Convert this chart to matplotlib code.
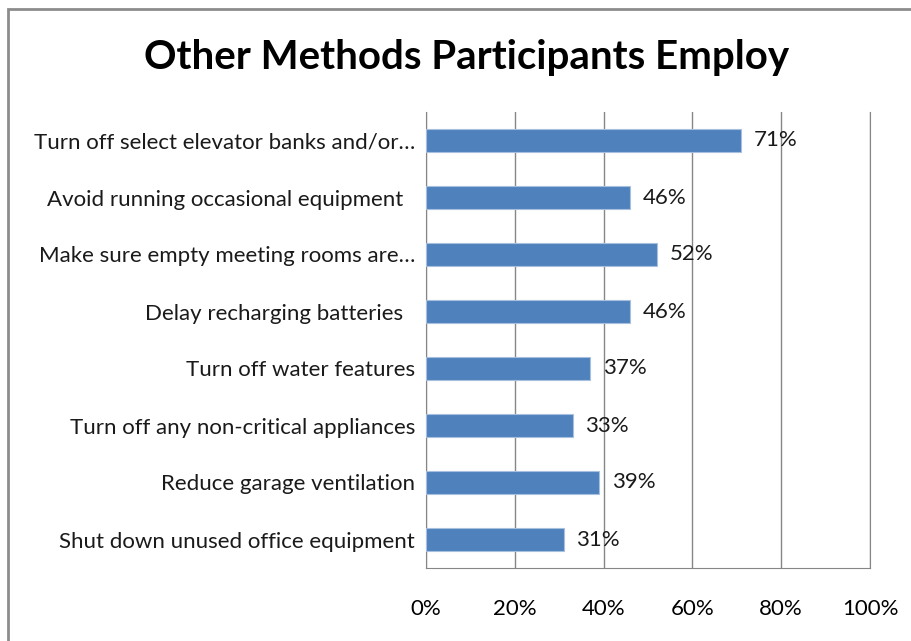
import matplotlib.pyplot as plt
from matplotlib.patches import Rectangle

# categorias (de arriba hacia abajo) y porcentajes
metodos = [
    'Turn off select elevator banks and/or…',
    'Avoid running occasional equipment  ',
    'Make sure empty meeting rooms are…',
    'Delay recharging batteries  ',
    'Turn off water features',
    'Turn off any non-critical appliances',
    'Reduce garage ventilation',
    'Shut down unused office equipment',
]
porcentajes = [71, 46, 52, 46, 37, 33, 39, 31]
ticks = [0, 20, 40, 60, 80, 100]

plt.rcParams['font.family'] = ['Lato', 'DejaVu Sans']

fig = plt.figure(figsize=(9.12, 6.41), dpi=100)
ax = fig.add_axes([426 / 912, 1 - 568 / 641, 444 / 912, 456 / 641])

# marco gris del grafico
fig.patches.append(Rectangle((8 / 912, -0.1), 1.2, 1 - 9 / 641 + 0.1,
                             transform=fig.transFigure, fill=False,
                             edgecolor='#8c8c8c', linewidth=2))

y = list(range(len(metodos)))[::-1]
ax.barh(y, porcentajes, height=0.39, color='#4f81bd', edgecolor='#a8c0e0',
        linewidth=0.8, zorder=3)
for yi, v in zip(y, porcentajes):
    ax.text(v + 2.8, yi, f'{v}%', va='center', ha='left', fontsize=16,
            color='#1a1a1a', zorder=4)

ax.set_xlim(0, 100)
ax.set_ylim(-0.5, len(metodos) - 0.5)
ax.set_xticks(ticks)
ax.set_xticklabels([f'{t}%' for t in ticks], fontsize=16)
ax.set_yticks(y)
ax.set_yticklabels(metodos, fontsize=16, color='#1a1a1a')
ax.tick_params(length=0, pad=8)
ax.tick_params(axis='x', pad=22)
ax.grid(axis='x', color='#868686', linewidth=1, zorder=0)
for s in ax.spines.values():
    s.set_color('#868686')
ax.spines['top'].set_visible(False)

fig.text(467 / 912, 1 - 57 / 641, 'Other Methods Participants Employ',
         ha='center', va='center', fontsize=29, fontweight='bold')

plt.savefig('out.png', dpi=100)
